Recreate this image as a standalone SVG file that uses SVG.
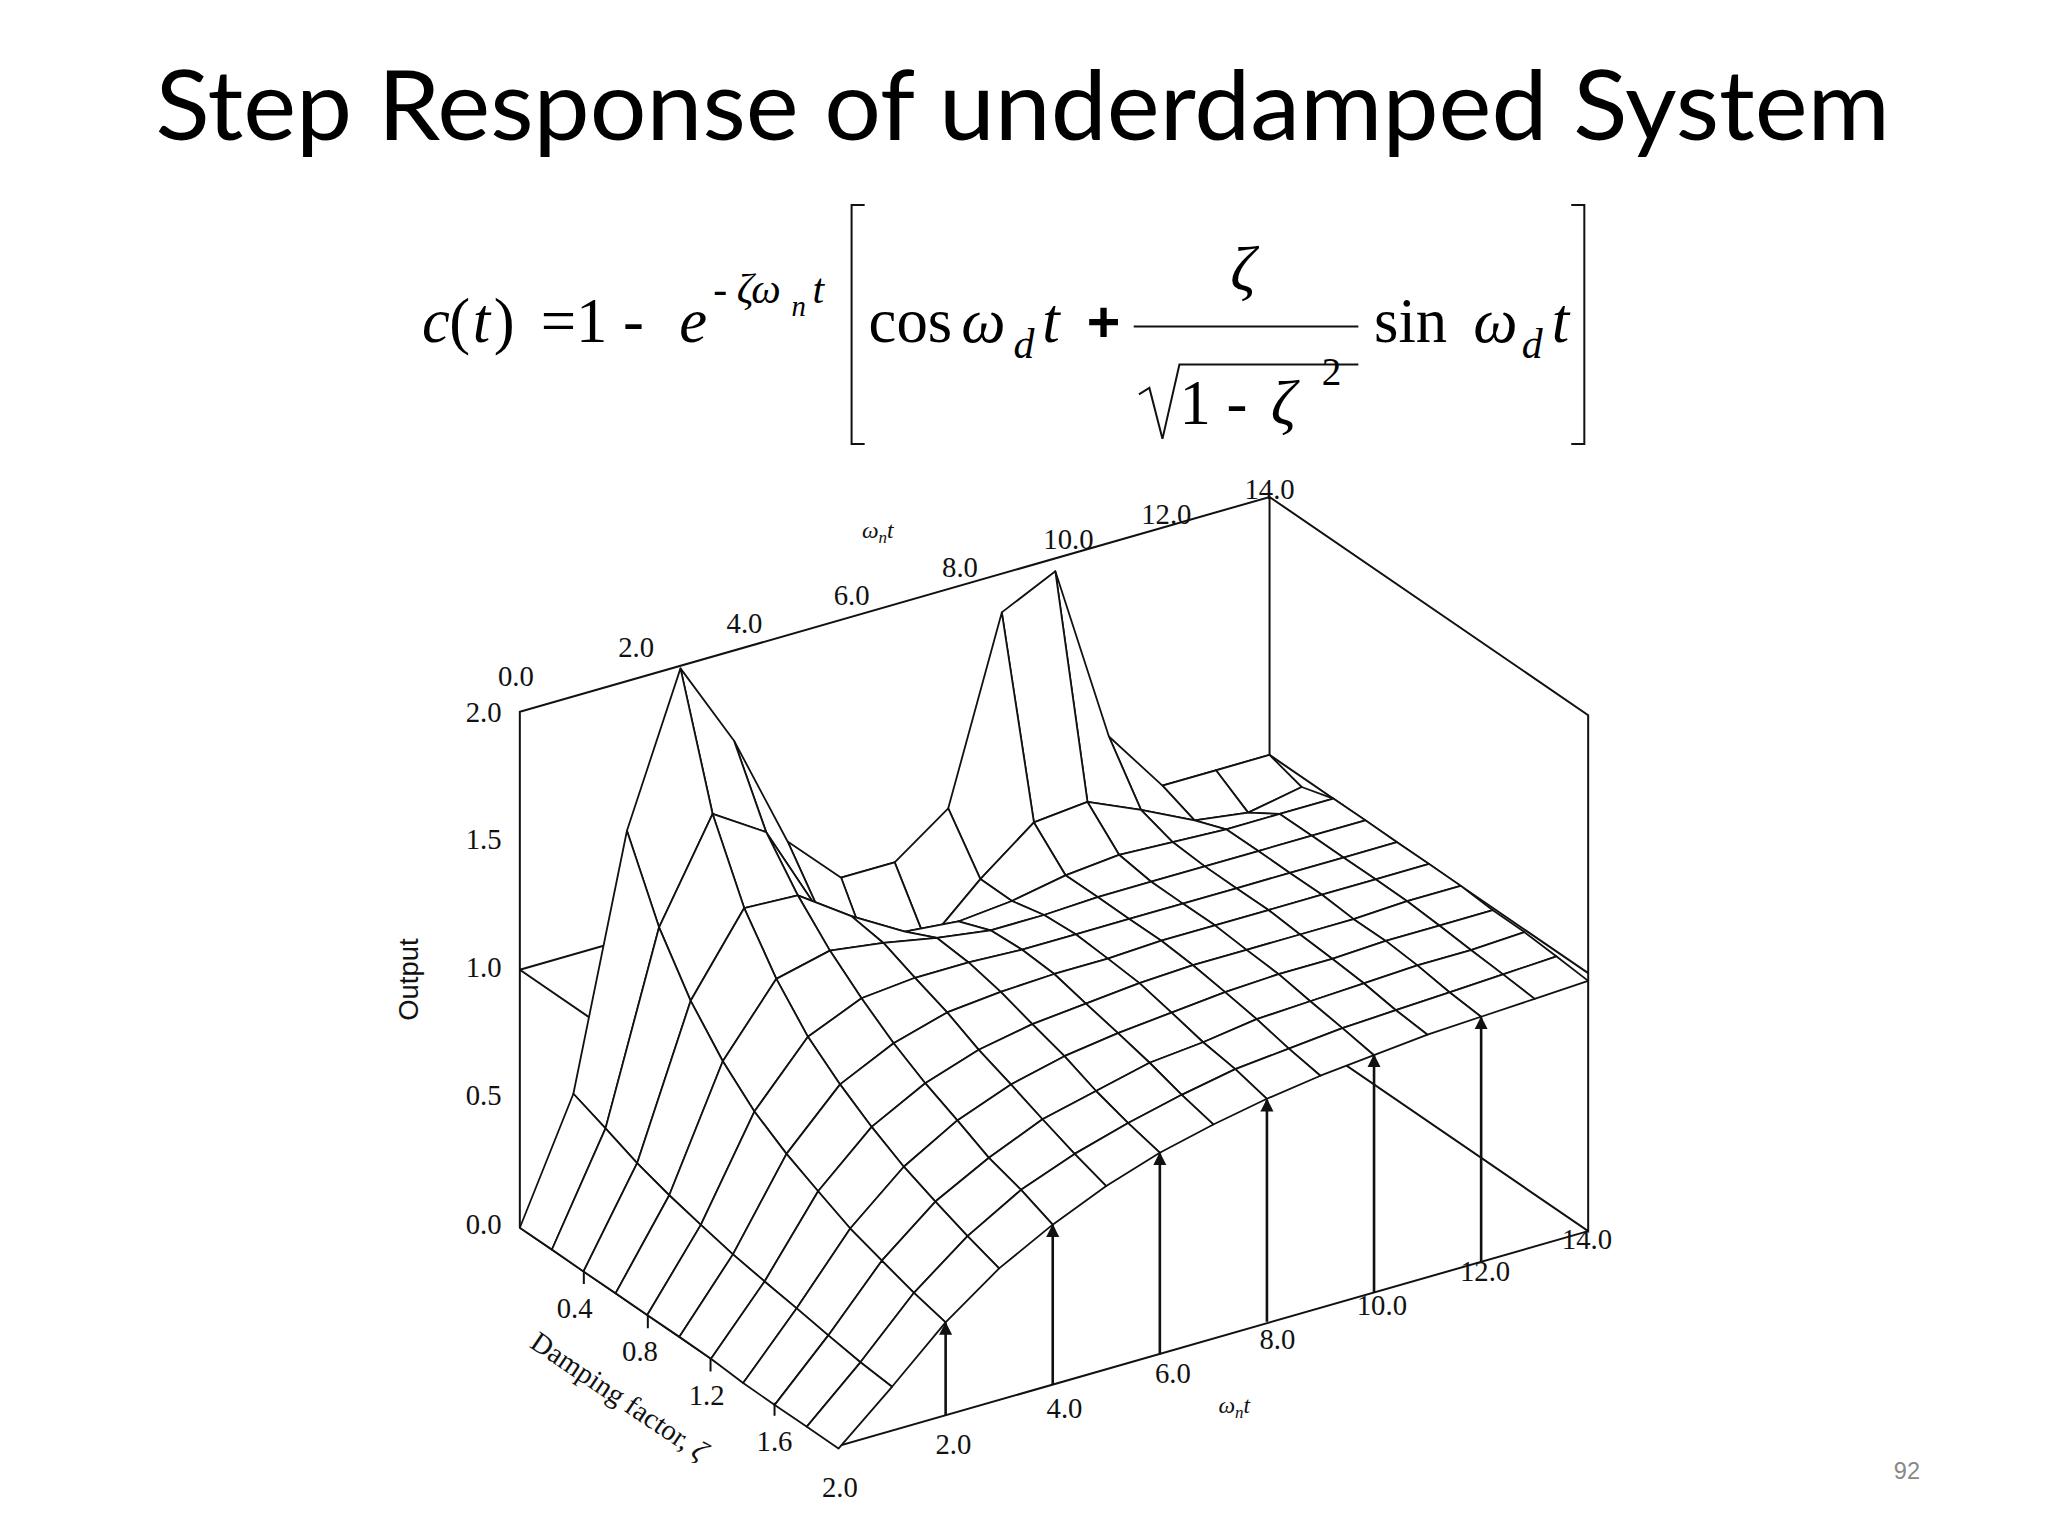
<svg xmlns="http://www.w3.org/2000/svg" width="2048" height="1536" viewBox="0 0 2048 1536">
<style>
.sf path{fill:#fff;stroke:#111;stroke-width:1.8;vector-effect:non-scaling-stroke;stroke-linejoin:round}
.ln{fill:none;stroke:#111;stroke-width:2;vector-effect:non-scaling-stroke}
.ax{font-family:"Liberation Serif",serif;font-size:22px;fill:#111;text-anchor:middle}
.eq{font-family:"Liberation Serif",serif;font-size:48px;fill:#000}
.sup{font-size:32px}
.sub{font-size:22px}
.it{font-style:italic}
.arr{stroke:#111;stroke-width:2;fill:none;marker-end:url(#ah)}
</style>
<defs>
<marker id="ah" viewBox="0 0 10 10" refX="9" refY="5" markerWidth="10" markerHeight="11" orient="auto" markerUnits="userSpaceOnUse">
<path d="M0,0 L10,5 L0,10 z" fill="#111"/>
</marker>
</defs>
<rect width="2048" height="1536" fill="#fff"/>
<g transform="scale(1.30612)">
<g id="title"><text x="783" y="107" text-anchor="middle" font-family="Lato, 'Open Sans', sans-serif" font-size="74" fill="#000" textLength="1328" lengthAdjust="spacingAndGlyphs">Step Response of underdamped System</text></g>
<g id="equation">
<text class="eq it" x="323" y="262">c</text>
<text class="eq" x="344" y="262">(</text>
<text class="eq it" x="362" y="262">t</text>
<text class="eq" x="378" y="262">)</text>
<text class="eq" x="414" y="262">=1 -</text>
<text class="eq it" x="520" y="262">e</text>
<text class="eq sup" x="546" y="232">-</text>
<text class="eq sup it" x="564" y="232">ζω</text>
<text class="eq sub it" x="606" y="242">n</text>
<text class="eq sup it" x="622" y="232">t</text>
<path class="ln" d="M662 157H652V340H662M1203 157H1213V340H1203"/>
<text class="eq" x="665" y="262">cos</text>
<text class="eq it" x="736" y="262">ω</text>
<text class="eq sup it" x="776" y="274">d</text>
<text class="eq it" x="798" y="262">t</text>
<text x="832" y="262" font-family="'Liberation Sans',sans-serif" font-size="44" font-weight="bold">+</text>
<text class="eq it" x="942" y="222">ζ</text>
<path class="ln" d="M868 250H1040"/>
<path class="ln" d="M872 302L880 297L890 336L903 279H1040"/>
<text class="eq" x="903" y="325">1 -</text>
<text class="eq it" x="973" y="325">ζ</text>
<text class="eq" x="1012" y="295" style="font-size:30px">2</text>
<text class="eq" x="1052" y="262">sin</text>
<text class="eq it" x="1128" y="262">ω</text>
<text class="eq sup it" x="1165" y="274">d</text>
<text class="eq it" x="1188" y="262">t</text>
</g>
<g id="plot">
<g id="walls" transform="matrix(0.41,-0.1175,0,-1.975,398,940)">
<path class="ln" d="M0 0V200H1400V100M1400 200L1995 80V-120L1400 0M0 0L595 -120H1995M0 100L595 -20M0 100H1400M1400 100L1995 -20M0 0H1400"/>
</g>
<g id="surface" class="sf" transform="matrix(0.41,-0.1175,0,-1.975,398,940)">
<path d="M1300 100L1400 100L1460 84L1360 80Z"/>
<path d="M1200 100L1300 100L1360 80L1260 83Z"/>
<path d="M1100 125L1200 100L1260 83L1160 93Z"/>
<path d="M1000 195L1100 125L1160 93L1060 102Z"/>
<path d="M900 185L1000 195L1060 102L960 100Z"/>
<path d="M800 115L900 185L960 100L860 84Z"/>
<path d="M700 100L800 115L860 84L760 65Z"/>
<path d="M600 100L700 100L760 65L660 63Z"/>
<path d="M500 120L600 100L660 63L560 89Z"/>
<path d="M400 165L500 120L560 89L460 126Z"/>
<path d="M300 199L400 165L460 126L360 139Z"/>
<path d="M200 142L300 199L360 139L260 101Z"/>
<path d="M100 46L200 142L260 101L160 29Z"/>
<path d="M0 0L100 46L160 29L60 -12Z"/>
<path d="M1360 80L1460 84L1519 76L1419 76Z"/>
<path d="M1260 83L1360 80L1419 76L1319 76Z"/>
<path d="M1160 93L1260 83L1319 76L1219 77Z"/>
<path d="M1060 102L1160 93L1219 77L1119 78Z"/>
<path d="M960 100L1060 102L1119 78L1019 76Z"/>
<path d="M860 84L960 100L1019 76L919 72Z"/>
<path d="M760 65L860 84L919 72L819 70Z"/>
<path d="M660 63L760 65L819 70L719 72Z"/>
<path d="M560 89L660 63L719 72L619 84Z"/>
<path d="M460 126L560 89L619 84L519 98Z"/>
<path d="M360 139L460 126L519 98L419 99Z"/>
<path d="M260 101L360 139L419 99L319 69Z"/>
<path d="M160 29L260 101L319 69L219 12Z"/>
<path d="M60 -12L160 29L219 12L119 -24Z"/>
<path d="M1419 76L1519 76L1579 64L1479 64Z"/>
<path d="M1319 76L1419 76L1479 64L1379 64Z"/>
<path d="M1219 77L1319 76L1379 64L1279 64Z"/>
<path d="M1119 78L1219 77L1279 64L1179 64Z"/>
<path d="M1019 76L1119 78L1179 64L1079 64Z"/>
<path d="M919 72L1019 76L1079 64L979 63Z"/>
<path d="M819 70L919 72L979 63L879 63Z"/>
<path d="M719 72L819 70L879 63L779 66Z"/>
<path d="M619 84L719 72L779 66L679 70Z"/>
<path d="M519 98L619 84L679 70L579 73Z"/>
<path d="M419 99L519 98L579 73L479 68Z"/>
<path d="M319 69L419 99L479 68L379 42Z"/>
<path d="M219 12L319 69L379 42L279 -4Z"/>
<path d="M119 -24L219 12L279 -4L179 -36Z"/>
<path d="M1479 64L1579 64L1638 52L1538 52Z"/>
<path d="M1379 64L1479 64L1538 52L1438 52Z"/>
<path d="M1279 64L1379 64L1438 52L1338 52Z"/>
<path d="M1179 64L1279 64L1338 52L1238 52Z"/>
<path d="M1079 64L1179 64L1238 52L1138 52Z"/>
<path d="M979 63L1079 64L1138 52L1038 52Z"/>
<path d="M879 63L979 63L1038 52L938 52Z"/>
<path d="M779 66L879 63L938 52L838 53Z"/>
<path d="M679 70L779 66L838 53L738 53Z"/>
<path d="M579 73L679 70L738 53L638 51Z"/>
<path d="M479 68L579 73L638 51L538 42Z"/>
<path d="M379 42L479 68L538 42L438 19Z"/>
<path d="M279 -4L379 42L438 19L338 -19Z"/>
<path d="M179 -36L279 -4L338 -19L238 -48Z"/>
<path d="M1538 52L1638 52L1698 40L1598 40Z"/>
<path d="M1438 52L1538 52L1598 40L1498 40Z"/>
<path d="M1338 52L1438 52L1498 40L1398 40Z"/>
<path d="M1238 52L1338 52L1398 40L1298 40Z"/>
<path d="M1138 52L1238 52L1298 40L1198 40Z"/>
<path d="M1038 52L1138 52L1198 40L1098 39Z"/>
<path d="M938 52L1038 52L1098 39L998 39Z"/>
<path d="M838 53L938 52L998 39L898 38Z"/>
<path d="M738 53L838 53L898 38L798 36Z"/>
<path d="M638 51L738 53L798 36L698 30Z"/>
<path d="M538 42L638 51L698 30L598 20Z"/>
<path d="M438 19L538 42L598 20L498 -1Z"/>
<path d="M338 -19L438 19L498 -1L398 -34Z"/>
<path d="M238 -48L338 -19L398 -34L298 -60Z"/>
<path d="M1598 40L1698 40L1757 28L1657 28Z"/>
<path d="M1498 40L1598 40L1657 28L1557 27Z"/>
<path d="M1398 40L1498 40L1557 27L1457 27Z"/>
<path d="M1298 40L1398 40L1457 27L1357 27Z"/>
<path d="M1198 40L1298 40L1357 27L1257 27Z"/>
<path d="M1098 39L1198 40L1257 27L1157 26Z"/>
<path d="M998 39L1098 39L1157 26L1057 24Z"/>
<path d="M898 38L998 39L1057 24L957 22Z"/>
<path d="M798 36L898 38L957 22L857 18Z"/>
<path d="M698 30L798 36L857 18L757 11Z"/>
<path d="M598 20L698 30L757 11L657 0Z"/>
<path d="M498 -1L598 20L657 0L557 -19Z"/>
<path d="M398 -34L498 -1L557 -19L457 -48Z"/>
<path d="M298 -60L398 -34L457 -48L357 -72Z"/>
<path d="M1657 28L1757 28L1817 15L1717 15Z"/>
<path d="M1557 27L1657 28L1717 15L1617 15Z"/>
<path d="M1457 27L1557 27L1617 15L1517 14Z"/>
<path d="M1357 27L1457 27L1517 14L1417 14Z"/>
<path d="M1257 27L1357 27L1417 14L1317 13Z"/>
<path d="M1157 26L1257 27L1317 13L1217 11Z"/>
<path d="M1057 24L1157 26L1217 11L1117 9Z"/>
<path d="M957 22L1057 24L1117 9L1017 6Z"/>
<path d="M857 18L957 22L1017 6L917 1Z"/>
<path d="M757 11L857 18L917 1L817 -7Z"/>
<path d="M657 0L757 11L817 -7L717 -19Z"/>
<path d="M557 -19L657 0L717 -19L617 -37Z"/>
<path d="M457 -48L557 -19L617 -37L517 -62Z"/>
<path d="M357 -72L457 -48L517 -62L417 -85Z"/>
<path d="M1717 15L1817 15L1876 3L1776 2Z"/>
<path d="M1617 15L1717 15L1776 2L1676 2Z"/>
<path d="M1517 14L1617 15L1676 2L1576 1Z"/>
<path d="M1417 14L1517 14L1576 1L1476 0Z"/>
<path d="M1317 13L1417 14L1476 0L1376 -1Z"/>
<path d="M1217 11L1317 13L1376 -1L1276 -4Z"/>
<path d="M1117 9L1217 11L1276 -4L1176 -6Z"/>
<path d="M1017 6L1117 9L1176 -6L1076 -11Z"/>
<path d="M917 1L1017 6L1076 -11L976 -16Z"/>
<path d="M817 -7L917 1L976 -16L876 -25Z"/>
<path d="M717 -19L817 -7L876 -25L776 -36Z"/>
<path d="M617 -37L717 -19L776 -36L676 -53Z"/>
<path d="M517 -62L617 -37L676 -53L576 -76Z"/>
<path d="M417 -85L517 -62L576 -76L476 -97Z"/>
<path d="M1776 2L1876 3L1936 -10L1836 -11Z"/>
<path d="M1676 2L1776 2L1836 -11L1736 -12Z"/>
<path d="M1576 1L1676 2L1736 -12L1636 -13Z"/>
<path d="M1476 0L1576 1L1636 -13L1536 -14Z"/>
<path d="M1376 -1L1476 0L1536 -14L1436 -16Z"/>
<path d="M1276 -4L1376 -1L1436 -16L1336 -18Z"/>
<path d="M1176 -6L1276 -4L1336 -18L1236 -22Z"/>
<path d="M1076 -11L1176 -6L1236 -22L1136 -27Z"/>
<path d="M976 -16L1076 -11L1136 -27L1036 -33Z"/>
<path d="M876 -25L976 -16L1036 -33L936 -41Z"/>
<path d="M776 -36L876 -25L936 -41L836 -53Z"/>
<path d="M676 -53L776 -36L836 -53L736 -69Z"/>
<path d="M576 -76L676 -53L736 -69L636 -90Z"/>
<path d="M476 -97L576 -76L636 -90L536 -109Z"/>
<path d="M1836 -11L1936 -10L1995 -23L1895 -24Z"/>
<path d="M1736 -12L1836 -11L1895 -24L1795 -25Z"/>
<path d="M1636 -13L1736 -12L1795 -25L1695 -26Z"/>
<path d="M1536 -14L1636 -13L1695 -26L1595 -28Z"/>
<path d="M1436 -16L1536 -14L1595 -28L1495 -30Z"/>
<path d="M1336 -18L1436 -16L1495 -30L1395 -33Z"/>
<path d="M1236 -22L1336 -18L1395 -33L1295 -37Z"/>
<path d="M1136 -27L1236 -22L1295 -37L1195 -42Z"/>
<path d="M1036 -33L1136 -27L1195 -42L1095 -49Z"/>
<path d="M936 -41L1036 -33L1095 -49L995 -58Z"/>
<path d="M836 -53L936 -41L995 -58L895 -69Z"/>
<path d="M736 -69L836 -53L895 -69L795 -84Z"/>
<path d="M636 -90L736 -69L795 -84L695 -103Z"/>
<path d="M536 -109L636 -90L695 -103L595 -121Z"/>
</g>
<g id="arrows">
<line class="arr" x1="724" y1="1084" x2="724" y2="1013"/>
<line class="arr" x1="806" y1="1060" x2="806" y2="938"/>
<line class="arr" x1="888" y1="1037" x2="888" y2="883"/>
<line class="arr" x1="970" y1="1012" x2="970" y2="842"/>
<line class="arr" x1="1052" y1="990" x2="1052" y2="808"/>
<line class="arr" x1="1134" y1="966" x2="1134" y2="779"/>
</g>
<g id="ticks"><path class="ln" d="M447 973v10M496 1007v10M544 1040v10M593 1074v10"/></g>
<g id="labels">
<g class="ax" style="text-anchor:end">
<text x="384" y="553">2.0</text><text x="384" y="650">1.5</text><text x="384" y="748">1.0</text><text x="384" y="846">0.5</text><text x="384" y="945">0.0</text>
</g>
<text x="320" y="750" transform="rotate(-90 320 750)" text-anchor="middle" font-family="'Liberation Sans',sans-serif" font-size="21" fill="#111">Output</text>
<g class="ax">
<text x="395" y="525">0.0</text><text x="487" y="503">2.0</text><text x="570" y="485">4.0</text><text x="652" y="463">6.0</text><text x="735" y="442">8.0</text><text x="818" y="420">10.0</text><text x="893" y="401">12.0</text><text x="972" y="382">14.0</text>
<text x="672" y="412" class="it" style="font-size:18px">ω<tspan style="font-size:13px" dy="4">n</tspan><tspan dy="-4">t</tspan></text>
<text x="440" y="1009">0.4</text><text x="490" y="1042">0.8</text><text x="541" y="1076">1.2</text><text x="593" y="1111">1.6</text><text x="643" y="1146">2.0</text>
<text x="470" y="1075" transform="rotate(34 470 1075)">Damping factor, <tspan class="it">ζ</tspan></text>
<text x="730" y="1113">2.0</text><text x="815" y="1086">4.0</text><text x="898" y="1059">6.0</text><text x="978" y="1033">8.0</text><text x="1058" y="1007">10.0</text><text x="1137" y="981">12.0</text><text x="1215" y="956">14.0</text>
<text x="945" y="1082" class="it" style="font-size:18px">ω<tspan style="font-size:13px" dy="4">n</tspan><tspan dy="-4">t</tspan></text>
</g>
</g>
</g>
<text x="1460" y="1132" text-anchor="middle" font-family="'Liberation Sans',sans-serif" font-size="18" fill="#888">92</text>
</g>
</svg>
